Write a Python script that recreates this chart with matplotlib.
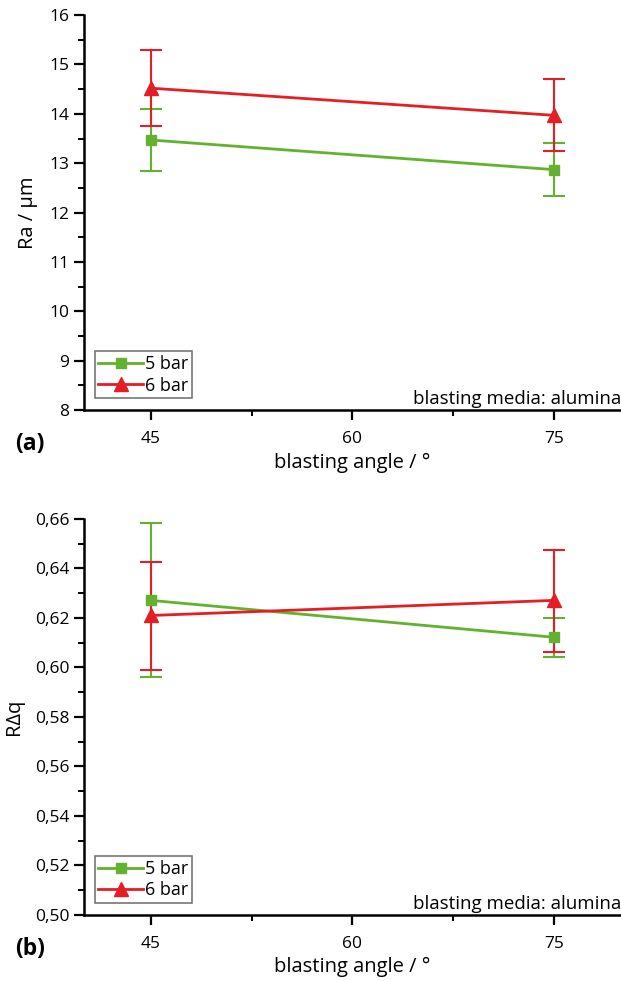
import matplotlib
matplotlib.use("Agg")
from matplotlib import pyplot as plt
from matplotlib.lines import Line2D
from matplotlib.ticker import MultipleLocator, FuncFormatter

angles = [45, 75]

ra_5bar = [13.47, 12.87]
ra_5bar_err = [0.63, 0.53]
ra_6bar = [14.52, 13.97]
ra_6bar_err = [0.77, 0.73]

rdq_5bar = [0.6271, 0.6122]
rdq_5bar_lo = [0.5960, 0.6043]
rdq_5bar_hi = [0.6582, 0.6201]
rdq_6bar = [0.6210, 0.6271]
rdq_6bar_lo = [0.5991, 0.6062]
rdq_6bar_hi = [0.6425, 0.6473]

GREEN = "#62b22f"
RED = "#e31e24"

plt.rcParams["font.family"] = ["Open Sans", "DejaVu Sans"]


def style_axes(ax, ylim, major, minor, ylabel, panel, fmt=None):
    ax.set_xlim(40, 80)
    ax.set_ylim(*ylim)
    ax.set_xticks([45, 60, 75])
    ax.xaxis.set_minor_locator(MultipleLocator(7.5))
    ax.yaxis.set_major_locator(MultipleLocator(major))
    ax.yaxis.set_minor_locator(MultipleLocator(minor))
    if fmt:
        ax.yaxis.set_major_formatter(FuncFormatter(fmt))
    for s in ["top", "right"]:
        ax.spines[s].set_visible(False)
    for s in ["left", "bottom"]:
        ax.spines[s].set_linewidth(1.8)
    ax.tick_params(which="major", direction="out", length=7, width=1.6, labelsize=12.5)
    ax.tick_params(which="minor", direction="out", length=4, width=1.4)
    ax.tick_params(axis="x", which="both", pad=8)
    ax.set_xlabel("blasting angle / °", fontsize=14.5, labelpad=4)
    ax.set_ylabel(ylabel, fontsize=14.5, labelpad=8)
    ax.text(1.0, 0.005, "blasting media: alumina", transform=ax.transAxes,
            ha="right", va="bottom", fontsize=13.5)
    ax.text(-0.128, -0.085, panel, transform=ax.transAxes, ha="left", va="center",
            fontsize=16.5, fontweight="bold")
    handles = [
        Line2D([], [], color=GREEN, marker="s", ms=7, lw=2, label="5 bar"),
        Line2D([], [], color=RED, marker="^", ms=10, lw=2, label="6 bar"),
    ]
    leg = ax.legend(handles=handles, loc="lower left", bbox_to_anchor=(0.02, 0.03),
                    fontsize=13, frameon=True, fancybox=False, edgecolor="#555555",
                    handlelength=2.5, handletextpad=0.1, borderpad=0.2,
                    labelspacing=0.2, borderaxespad=0)
    leg.get_frame().set_linewidth(1.2)


fig = plt.figure(figsize=(6.21, 9.81), dpi=100)

ax1 = fig.add_axes([0.135, 0.582, 0.865, 0.4026])
ax1.errorbar(angles, ra_5bar, yerr=ra_5bar_err, color=GREEN, marker="s", ms=7,
             lw=2, capsize=8, capthick=1.5, elinewidth=1.5)
ax1.errorbar(angles, ra_6bar, yerr=ra_6bar_err, color=RED, marker="^", ms=10,
             lw=2, capsize=8, capthick=1.5, elinewidth=1.5)
style_axes(ax1, (8, 16), 1, 0.5, "Ra / µm", "(a)")

ax2 = fig.add_axes([0.135, 0.0673, 0.865, 0.4037])
err5 = [[m - lo for m, lo in zip(rdq_5bar, rdq_5bar_lo)],
        [hi - m for m, hi in zip(rdq_5bar, rdq_5bar_hi)]]
err6 = [[m - lo for m, lo in zip(rdq_6bar, rdq_6bar_lo)],
        [hi - m for m, hi in zip(rdq_6bar, rdq_6bar_hi)]]
ax2.errorbar(angles, rdq_5bar, yerr=err5, color=GREEN, marker="s", ms=7,
             lw=2, capsize=8, capthick=1.5, elinewidth=1.5)
ax2.errorbar(angles, rdq_6bar, yerr=err6, color=RED, marker="^", ms=10,
             lw=2, capsize=8, capthick=1.5, elinewidth=1.5)
style_axes(ax2, (0.50, 0.66), 0.02, 0.01, "RΔq", "(b)",
           fmt=lambda v, p: f"{v:.2f}".replace(".", ","))

fig.savefig("out.png", dpi=100)
